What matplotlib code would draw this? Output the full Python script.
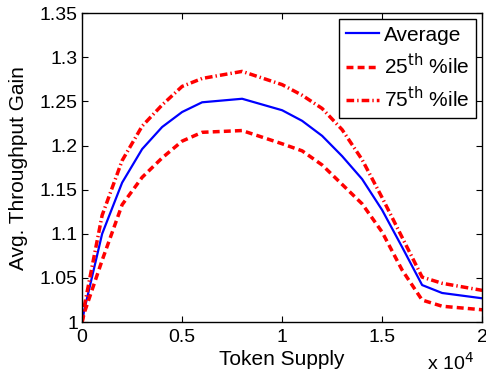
import matplotlib.pyplot as plt
import numpy as np

plt.rcParams['font.family'] = ['Liberation Sans', 'DejaVu Sans']
plt.rcParams['lines.scale_dashes'] = False

# token supply values and throughput gains
supply = [0, 100, 1000, 2000, 3000, 4000, 5000, 6000, 8000, 10000,
          11000, 12000, 13000, 14000, 15000, 16000, 17000, 18000, 20000]
average = [1.0, 1.013, 1.100, 1.158, 1.196, 1.221, 1.238, 1.249, 1.253, 1.240,
           1.228, 1.211, 1.188, 1.162, 1.127, 1.085, 1.042, 1.033, 1.027]
pct25 = [1.0, 1.010, 1.070, 1.133, 1.164, 1.186, 1.205, 1.215, 1.217, 1.202,
         1.194, 1.178, 1.156, 1.134, 1.102, 1.059, 1.025, 1.018, 1.014]
pct75 = [1.0, 1.017, 1.121, 1.183, 1.222, 1.246, 1.267, 1.276, 1.284, 1.269,
         1.257, 1.242, 1.218, 1.184, 1.141, 1.096, 1.051, 1.044, 1.036]

xticks = [0, 5000, 10000, 15000, 20000]
xticklabels = ['0', '0.5', '1', '1.5', '2']
yticks = [1.0, 1.05, 1.1, 1.15, 1.2, 1.25, 1.3, 1.35]
yticklabels = ['1', '1.05', '1.1', '1.15', '1.2', '1.25', '1.3', '1.35']

fs_tick = 14
fs_lab = 15

fig = plt.figure(figsize=(4.86, 3.75), dpi=100)
ax = fig.add_axes([0.169, 0.141, 0.823, 0.824])

ax.plot(supply, average, color='#0000ff', lw=1.6, label='Average')
ax.plot(supply, pct25, color='#ff0000', lw=2.5, dashes=(5.0, 3.0),
        label='25$^{\\mathrm{th}}$ %ile')
ax.plot(supply, pct75, color='#ff0000', lw=2.5, dashes=(5.5, 2.2, 1.0, 2.2),
        label='75$^{\\mathrm{th}}$ %ile')

ax.set_xlim(0, 20000)
ax.set_ylim(1.0, 1.35)
ax.set_xticks(xticks)
ax.set_xticklabels(xticklabels)
ax.set_yticks(yticks)
ax.set_yticklabels(yticklabels)
ax.tick_params(direction='in', top=True, right=True, labelsize=fs_tick, length=4)
ax.tick_params(axis='x', pad=5)
ax.tick_params(axis='y', pad=3)
for s in ax.spines.values():
    s.set_linewidth(1.0)

ax.set_xlabel('Token Supply', fontsize=fs_lab, labelpad=3)
ax.set_ylabel('Avg. Throughput Gain', fontsize=fs_lab)
ax.yaxis.set_label_coords(-0.135, 0.5)
fig.text(0.975, 0.004, 'x 10$^{4}$', fontsize=fs_tick, ha='right', va='bottom')

leg = ax.legend(loc='upper right', fontsize=fs_lab, fancybox=False, framealpha=1,
                edgecolor='black', handlelength=1.6, borderpad=0.3,
                labelspacing=0.4, handletextpad=0.25, borderaxespad=0.3)
leg.get_frame().set_linewidth(1.0)

fig.savefig('out.png', dpi=100)
